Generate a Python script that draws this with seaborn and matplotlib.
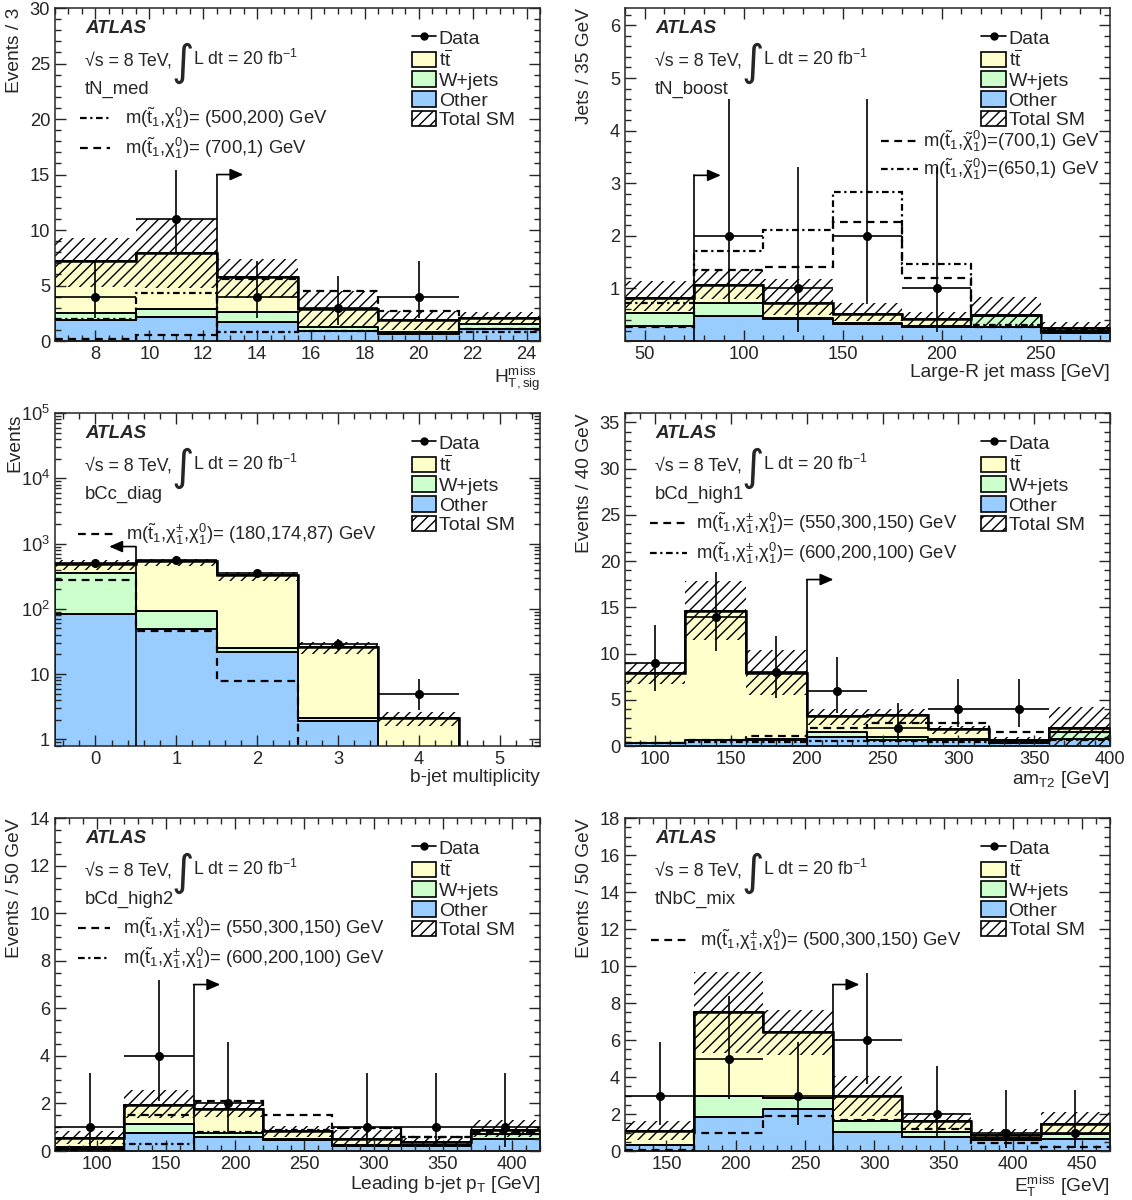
import numpy as np
import pandas as pd
import seaborn as sns
import matplotlib.pyplot as plt
from matplotlib.lines import Line2D
from matplotlib.patches import Patch
from matplotlib.ticker import MultipleLocator, FixedLocator, FixedFormatter, LogLocator, NullFormatter

# ---- tN_med : H_T,sig^miss ----
med_edges = [6.5, 9.5, 12.5, 15.5, 18.5, 21.5, 24.5]
med_other = [1.9, 2.2, 1.7, 0.9, 0.6, 1.1]
med_wjets = [0.6, 0.7, 0.9, 0.4, 0.25, 0.45]
med_ttbar = [4.7, 5.0, 3.2, 1.6, 1.05, 0.55]
med_band_lo = [4.9, 4.8, 3.9, 1.4, 1.0, 1.6]
med_band_hi = [9.3, 11.0, 7.4, 4.5, 2.7, 2.6]
med_data = [4, 11, 4, 3, 4, 0]
med_data_lo = [2.1, 7.8, 2.1, 1.4, 2.1, 0]
med_data_hi = [7.2, 15.4, 7.2, 5.9, 7.2, 0]
med_sig_500_200 = [2.0, 4.3, 0.8, 0.9, 0.7, 0.8]
med_sig_700_1 = [0.2, 0.5, 5.6, 4.5, 2.7, 1.1]

# ---- tN_boost : large-R jet mass ----
boost_edges = [40, 75, 110, 145, 180, 215, 250, 285]
boost_other = [0.29, 0.48, 0.42, 0.33, 0.26, 0.27, 0.15]
boost_wjets = [0.25, 0.24, 0.02, 0.02, 0.02, 0.21, 0.04]
boost_ttbar = [0.27, 0.35, 0.29, 0.17, 0.14, 0.02, 0.06]
boost_band_lo = [0.57, 0.8, 0.5, 0.38, 0.28, 0.25, 0.15]
boost_band_hi = [1.14, 1.36, 1.18, 0.72, 0.56, 0.84, 0.37]
boost_data = [0, 2, 1, 2, 1, 0, 0]
boost_data_lo = [0, 0.7, 0.17, 0.7, 0.17, 0, 0]
boost_data_hi = [0, 4.6, 3.3, 4.6, 3.3, 0, 0]
boost_sig_700_1 = [0.27, 1.35, 1.41, 2.26, 1.19, 0.27, 0.2]
boost_sig_650_1 = [0.73, 1.71, 2.12, 2.84, 1.47, 0.3, 0.22]

# ---- bCc_diag : b-jet multiplicity ----
diag_edges = [-0.5, 0.5, 1.5, 2.5, 3.5, 4.5, 5.5]
diag_other = [82, 49, 22, 1.9, 0, 0]
diag_wjets = [266, 45, 3.3, 0.25, 0, 0]
diag_ttbar = [142, 441, 310, 23.9, 2.1, 0]
diag_band_lo = [400, 460, 265, 20, 1.6, 0]
diag_band_hi = [570, 580, 370, 31, 2.6, 0]
diag_data = [505, 560, 360, 29, 5, 0]
diag_data_lo = [483, 536, 341, 23.7, 2.8, 0]
diag_data_hi = [528, 584, 379, 34.9, 8.4, 0]
diag_sig_180_174_87 = [272, 45, 7.8, 0, 0, 0]

# ---- bCd_high1 : amT2 ----
high1_edges = [80, 120, 160, 200, 240, 280, 320, 360, 400]
high1_other = [0.3, 0.6, 0.7, 1.0, 0.7, 0.6, 0.35, 0.8]
high1_wjets = [0.05, 0.05, 0.1, 0.5, 0.3, 0.2, 0.05, 0.7]
high1_ttbar = [7.55, 13.95, 7.1, 1.7, 2.4, 1.0, 0.3, 0.4]
high1_band_lo = [6.7, 11.5, 5.5, 2.3, 2.4, 1.3, 0.4, 0.0]
high1_band_hi = [9.0, 17.8, 10.4, 4.0, 4.0, 2.2, 1.0, 4.2]
high1_data = [9, 14, 8, 6, 2, 4, 4, 0]
high1_data_lo = [6.0, 10.3, 5.2, 3.6, 0.7, 2.1, 2.1, 0]
high1_data_hi = [13.1, 18.8, 11.9, 9.6, 4.6, 7.2, 7.2, 0]
high1_sig_550_300_150 = [0.3, 0.6, 1.1, 1.9, 2.5, 2.5, 1.5, 1.5]
high1_sig_600_200_100 = [0.35, 0.4, 0.45, 0.5, 0.5, 0.4, 0.3, 0.6]

# ---- bCd_high2 : leading b-jet pT ----
high2_edges = [70, 120, 170, 220, 270, 320, 370, 420]
high2_other = [0.1, 0.75, 0.6, 0.45, 0.2, 0.2, 0.5]
high2_wjets = [0.05, 0.4, 0.15, 0.05, 0.05, 0.05, 0.2]
high2_ttbar = [0.4, 0.8, 1.0, 0.35, 0.25, 0.15, 0.2]
high2_band_lo = [0.3, 1.4, 1.45, 0.6, 0.2, 0.25, 0.6]
high2_band_hi = [0.85, 2.55, 2.05, 1.05, 0.9, 0.55, 1.3]
high2_data = [1, 4, 2, 0, 1, 1, 1]
high2_data_lo = [0.17, 2.1, 0.7, 0, 0.17, 0.17, 0.17]
high2_data_hi = [3.3, 7.2, 4.6, 0, 3.3, 3.3, 3.3]
high2_sig_550_300_150 = [0.1, 1.5, 2.1, 1.5, 0.95, 0.6, 0.8]
high2_sig_600_200_100 = [0.05, 0.3, 0.8, 0.9, 0.95, 0.6, 0.7]

# ---- tNbC_mix : ETmiss ----
mix_edges = [120, 170, 220, 270, 320, 370, 420, 470]
mix_other = [0.3, 1.85, 2.25, 1.05, 0.75, 0.6, 0.65]
mix_wjets = [0.05, 1.15, 0.6, 0.55, 0.3, 0.1, 0.25]
mix_ttbar = [0.75, 4.5, 3.6, 1.4, 0.6, 0.15, 0.55]
mix_band_lo = [0.6, 5.3, 5.2, 1.9, 1.2, 0.6, 1.0]
mix_band_hi = [1.6, 9.7, 7.65, 4.05, 2.05, 1.2, 2.1]
mix_data = [3, 5, 3, 6, 2, 1, 1]
mix_data_lo = [1.4, 2.8, 1.4, 3.6, 0.7, 0.17, 0.17]
mix_data_hi = [5.9, 8.4, 5.9, 9.6, 4.6, 3.3, 3.3]
mix_sig_500_300_150 = [0.05, 1.0, 1.9, 1.7, 1.2, 0.45, 0.2]

TT_COL = '#ffffcc'
W_COL = '#ccffcc'
OTH_COL = '#99ccff'
DASH = (0, (3.5, 2.5))
DASHDOT = (0, (3, 1.6, 1, 1.6))

sns.set_style('ticks')
plt.rcParams['font.family'] = ['Liberation Sans', 'DejaVu Sans']
plt.rcParams['mathtext.fontset'] = 'custom'
plt.rcParams['mathtext.rm'] = 'Liberation Sans'
plt.rcParams['mathtext.it'] = 'Liberation Sans:italic'
plt.rcParams['mathtext.bf'] = 'Liberation Sans:bold'
plt.rcParams['hatch.linewidth'] = 1.0
plt.rcParams['axes.linewidth'] = 1.1

lab_t1 = r'$\tilde{\mathrm{t}}_1$'
lab_n = r'$\mathrm{\chi}_1^0$'
lab_c = r'$\mathrm{\chi}_1^{\pm}$'
lab_nt = r'$\tilde{\mathrm{\chi}}_1^0$'

panels = [
    dict(edges=med_edges, other=med_other, wjets=med_wjets, ttbar=med_ttbar,
         lo=med_band_lo, hi=med_band_hi, data=med_data, dlo=med_data_lo, dhi=med_data_hi,
         sigs=[(med_sig_500_200, DASHDOT, 'm(' + lab_t1 + ',' + lab_n + ')= (500,200) GeV'),
               (med_sig_700_1, DASH, 'm(' + lab_t1 + ',' + lab_n + ')= (700,1) GeV')],
         sig_pos=(0.052, 0.114, 0.144, [0.67, 0.58]),
         region='tN_med', xlabel=r'$\mathrm{H_{T,sig}^{miss}}$', ylabel='Events / 3',
         ylim=(0, 30), ymaj=5, ymin=1, xmaj=2, xmin=0.5, arrow=(12.5, 15, 1)),
    dict(edges=boost_edges, other=boost_other, wjets=boost_wjets, ttbar=boost_ttbar,
         lo=boost_band_lo, hi=boost_band_hi, data=boost_data, dlo=boost_data_lo, dhi=boost_data_hi,
         sigs=[(boost_sig_700_1, DASH, 'm(' + lab_t1 + ',' + lab_nt + ')=(700,1) GeV'),
               (boost_sig_650_1, DASHDOT, 'm(' + lab_t1 + ',' + lab_nt + ')=(650,1) GeV')],
         sig_pos=(0.528, 0.605, 0.615, [0.60, 0.516]),
         region='tN_boost', xlabel='Large-R jet mass [GeV]', ylabel='Jets / 35 GeV',
         ylim=(0, 6.33), ymaj=None, ymin=0.2, xmaj=50, xmin=10, arrow=(75, 3.15, 1)),
    dict(edges=diag_edges, other=diag_other, wjets=diag_wjets, ttbar=diag_ttbar,
         lo=diag_band_lo, hi=diag_band_hi, data=diag_data, dlo=diag_data_lo, dhi=diag_data_hi,
         sigs=[(diag_sig_180_174_87, DASH, 'm(' + lab_t1 + ',' + lab_c + ',' + lab_n + ')= (180,174,87) GeV')],
         sig_pos=(0.047, 0.12, 0.147, [0.637]),
         region='bCc_diag', xlabel='b-jet multiplicity', ylabel='Events',
         ylim=(0.79, 1e5), ymaj='log', ymin=None, xmaj=1, xmin=0.2, arrow=(0.5, 900, -1)),
    dict(edges=high1_edges, other=high1_other, wjets=high1_wjets, ttbar=high1_ttbar,
         lo=high1_band_lo, hi=high1_band_hi, data=high1_data, dlo=high1_data_lo, dhi=high1_data_hi,
         sigs=[(high1_sig_550_300_150, DASH, 'm(' + lab_t1 + ',' + lab_c + ',' + lab_n + ')= (550,300,150) GeV'),
               (high1_sig_600_200_100, DASHDOT, 'm(' + lab_t1 + ',' + lab_c + ',' + lab_n + ')= (600,200,100) GeV')],
         sig_pos=(0.052, 0.129, 0.147, [0.67, 0.58]),
         region='bCd_high1', xlabel=r'am$_{\mathrm{T2}}$ [GeV]', ylabel='Events / 40 GeV',
         ylim=(0, 36), ymaj=5, ymin=1, xmaj=50, xmin=10, arrow=(200, 18, 1)),
    dict(edges=high2_edges, other=high2_other, wjets=high2_wjets, ttbar=high2_ttbar,
         lo=high2_band_lo, hi=high2_band_hi, data=high2_data, dlo=high2_data_lo, dhi=high2_data_hi,
         sigs=[(high2_sig_550_300_150, DASH, 'm(' + lab_t1 + ',' + lab_c + ',' + lab_n + ')= (550,300,150) GeV'),
               (high2_sig_600_200_100, DASHDOT, 'm(' + lab_t1 + ',' + lab_c + ',' + lab_n + ')= (600,200,100) GeV')],
         sig_pos=(0.048, 0.114, 0.141, [0.67, 0.58]),
         region='bCd_high2', xlabel=r'Leading b-jet p$_{\mathrm{T}}$ [GeV]', ylabel='Events / 50 GeV',
         ylim=(0, 14), ymaj=2, ymin=0.5, xmaj=50, xmin=10, arrow=(170, 7, 1)),
    dict(edges=mix_edges, other=mix_other, wjets=mix_wjets, ttbar=mix_ttbar,
         lo=mix_band_lo, hi=mix_band_hi, data=mix_data, dlo=mix_data_lo, dhi=mix_data_hi,
         sigs=[(mix_sig_500_300_150, DASH, 'm(' + lab_t1 + ',' + lab_c + ',' + lab_n + ')= (500,300,150) GeV')],
         sig_pos=(0.054, 0.129, 0.154, [0.634]),
         region='tNbC_mix', xlabel=r'$\mathrm{E_{T}^{miss}}$ [GeV]', ylabel='Events / 50 GeV',
         ylim=(0, 18), ymaj=2, ymin=0.5, xmaj=50, xmin=10, arrow=(270, 9, 1)),
]

palette = {'ttbar': TT_COL, 'wjets': W_COL, 'other': OTH_COL}


def draw_panel(ax, p):
    edges = np.array(p['edges'], float)
    centers = (edges[:-1] + edges[1:]) / 2
    widths = np.diff(edges)
    n = len(centers)
    df = pd.DataFrame({'x': np.tile(centers, 3),
                       'w': np.concatenate([p['ttbar'], p['wjets'], p['other']]),
                       'proc': ['ttbar'] * n + ['wjets'] * n + ['other'] * n})
    sns.histplot(data=df, x='x', weights='w', hue='proc', hue_order=['ttbar', 'wjets', 'other'],
                 bins=list(p['edges']), multiple='stack', element='step', palette=palette, alpha=1,
                 edgecolor='k', linewidth=1.4, legend=False, ax=ax)
    # keep the stacked fills beneath the hatch band
    for c in ax.collections:
        c.set_zorder(0.5)

    if p['ymaj'] == 'log':
        ax.set_yscale('log')

    # total SM uncertainty band, hatched boxes on top of the fills
    lo = np.array(p['lo'], float)
    hi = np.array(p['hi'], float)
    ax.bar(centers, hi - lo, bottom=lo, width=widths, facecolor='none', edgecolor='k',
           hatch='///', linewidth=0, zorder=2.5)
    total = np.array(p['ttbar']) + np.array(p['wjets']) + np.array(p['other'])
    ax.stairs(total, edges, baseline=None, color='k', lw=1.8, zorder=3)

    # signals
    x0, x1, xt, ys = p['sig_pos']
    for (vals, ls, label), yy in zip(p['sigs'], ys):
        ax.stairs(vals, edges, baseline=None, color='k', lw=1.6, linestyle=ls, zorder=3)
        ax.plot([x0, x1], [yy, yy], transform=ax.transAxes, color='k', lw=1.6, linestyle=ls)
        ax.text(xt, yy, label, transform=ax.transAxes, fontsize=13.3, va='center')

    # data
    d = np.array(p['data'], float)
    dlo = np.array(p['dlo'], float)
    dhi = np.array(p['dhi'], float)
    m = d > 0
    ax.errorbar(centers[m], d[m], xerr=widths[m] / 2, yerr=[d[m] - dlo[m], dhi[m] - d[m]],
                fmt='o', color='k', ms=5.5, lw=1.2, capsize=0, zorder=5)

    ax.set_xlim(edges[0], edges[-1])
    ax.set_ylim(*p['ylim'])

    # cut arrow
    xa, ya, sgn = p['arrow']
    ax.plot([xa, xa], [p['ylim'][0], ya], color='k', lw=1.2, zorder=5)
    dx = sgn * 0.055 * (edges[-1] - edges[0])
    ax.annotate('', xy=(xa + dx, ya), xytext=(xa, ya),
                arrowprops=dict(arrowstyle='-|>,head_length=0.8,head_width=0.35', color='k',
                                lw=1.2, shrinkA=0, shrinkB=0), zorder=5)

    # ticks
    ax.xaxis.set_major_locator(MultipleLocator(p['xmaj']))
    ax.xaxis.set_minor_locator(MultipleLocator(p['xmin']))
    if p['ymaj'] == 'log':
        ax.yaxis.set_major_locator(FixedLocator([1, 10, 100, 1e3, 1e4, 1e5]))
        ax.yaxis.set_major_formatter(FixedFormatter(['1', '10', r'$10^{2}$', r'$10^{3}$',
                                                     r'$10^{4}$', r'$10^{5}$']))
        ax.yaxis.set_minor_locator(LogLocator(base=10, subs=np.arange(2, 10)))
        ax.yaxis.set_minor_formatter(NullFormatter())
    elif p['ymaj'] is None:
        ax.yaxis.set_major_locator(FixedLocator([1, 2, 3, 4, 5, 6]))
        ax.yaxis.set_minor_locator(MultipleLocator(p['ymin']))
    else:
        ax.yaxis.set_major_locator(MultipleLocator(p['ymaj']))
        ax.yaxis.set_minor_locator(MultipleLocator(p['ymin']))
    ax.tick_params(which='both', direction='in', top=True, right=True, labelsize=13.2, width=1.0)
    ax.tick_params(which='major', length=8)
    ax.tick_params(which='minor', length=4)

    ax.set_xlabel(p['xlabel'], loc='right', fontsize=13.8, labelpad=1)
    ax.set_ylabel(p['ylabel'], loc='top', fontsize=13.8)
    ax.yaxis.set_label_coords(-0.066, 1.0)

    # labels
    ax.text(0.062, 0.94, 'ATLAS', transform=ax.transAxes, fontsize=13.5,
            fontweight='bold', fontstyle='italic', va='center')
    t1 = ax.text(0.062, 0.84, '\u221as = 8 TeV,', transform=ax.transAxes,
                 fontsize=12.8, va='center')
    t2 = ax.annotate('\u222b', xy=(1, 0.42), xycoords=t1, xytext=(0, 0), textcoords='offset points',
                     fontsize=31, va='center', ha='left', family='DejaVu Sans')
    ax.annotate(r'L dt = 20 fb$^{\mathrm{-1}}$', xy=(1, 0.58), xycoords=t2, xytext=(-1, 0),
                textcoords='offset points', fontsize=12.8, va='center', ha='left')
    ax.text(0.062, 0.757, p['region'], transform=ax.transAxes, fontsize=13.3, va='center')

    handles = [Line2D([0], [0], color='k', marker='o', ms=5, lw=1.2),
               Patch(facecolor=TT_COL, edgecolor='k', lw=1.2),
               Patch(facecolor=W_COL, edgecolor='k', lw=1.2),
               Patch(facecolor=OTH_COL, edgecolor='k', lw=1.2),
               Patch(facecolor='white', edgecolor='k', hatch='///', lw=1.2)]
    labels = ['Data', r'$\mathrm{t\overline{t}}$', 'W+jets', 'Other', 'Total SM']
    ax.legend(handles, labels, loc='upper left', bbox_to_anchor=(0.735, 0.937), frameon=False,
              fontsize=14, handlelength=1.25, handleheight=0.88, handletextpad=0.15,
              labelspacing=0.05, borderpad=0, borderaxespad=0)


fig = plt.figure(figsize=(11.32, 12), dpi=100)
lefts = [0.0486, 0.552]
bottoms = [0.7158, 0.3783, 0.0408]
for i, p in enumerate(panels):
    ax = fig.add_axes([lefts[i % 2], bottoms[i // 2], 0.4285, 0.2775])
    draw_panel(ax, p)

fig.savefig('out.png', dpi=100)
